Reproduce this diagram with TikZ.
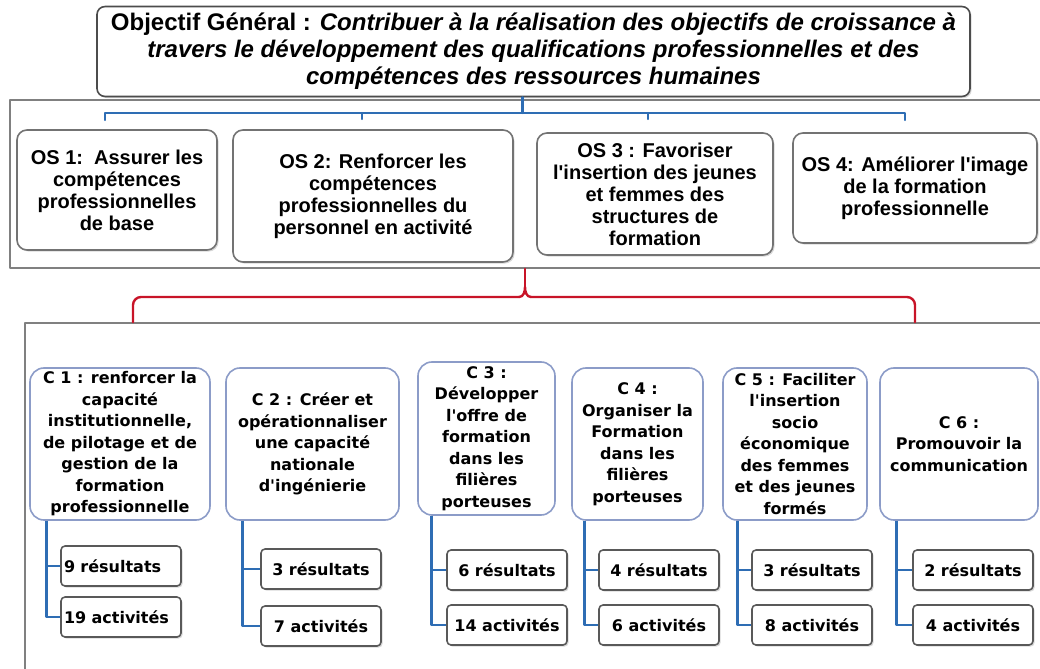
\documentclass[tikz,border=0pt]{standalone}
\usepackage{fontspec}
\setmainfont{Liberation Sans}
\newfontfamily\verdfont{DejaVu Sans}
\usetikzlibrary{shadows}
\definecolor{brblue}{RGB}{46,109,180}
\definecolor{brred}{RGB}{200,20,40}
\definecolor{cedge}{RGB}{140,156,200}
\definecolor{frgray}{RGB}{128,128,128}
\begin{document}
\begin{tikzpicture}[x=0.5pt,y=-0.5pt,line join=round,line cap=round,
	frame/.style={draw=frgray,line width=0.8pt,inner sep=0pt},
	shad/.style={drop shadow={opacity=0.3,shadow xshift=0.8pt,shadow yshift=-0.8pt}},
	gen/.style={draw=black!70,line width=0.8pt,rounded corners=4pt,fill=white,shad,align=center,
		minimum width=436.5pt,minimum height=43.5pt,font=\fontsize{12}{13.5}\selectfont\bfseries},
	osbox/.style={draw=black!55,line width=0.8pt,rounded corners=5pt,fill=white,shad,align=center,
		inner sep=1pt,font=\fontsize{10}{11}\selectfont\bfseries},
	cbox/.style={draw=cedge,line width=0.8pt,rounded corners=7pt,fill=white,align=center,
		inner sep=1pt,minimum height=76pt,font=\verdfont\bfseries\fontsize{8}{10.75}\selectfont},
	res/.style={draw=black!65,line width=0.8pt,rounded corners=2pt,fill=white,shad,
		minimum width=60pt,minimum height=20pt,font=\verdfont\bfseries\fontsize{8}{10}\selectfont},
	blbr/.style={draw=brblue,line width=1.1pt},
	rdbr/.style={draw=brred,line width=1.2pt},
	stem/.style={draw=brblue,line width=1.4pt,line cap=butt}]
	\useasboundingbox (0,0) rectangle (1040,669);
	% frames
	\node[frame,minimum width=520pt,minimum height=84pt] (f1) at (530,184) {};
	\node[frame,minimum width=515pt,minimum height=183.5pt] (f2) at (540,506.5) {};
	% general objective
	\node[gen] (gen) at (533.5,51.5) {Objectif Général : \textit{Contribuer à la réalisation des objectifs de croissance à}\\
		\textit{travers le développement des qualifications professionnelles et des}\\
		\textit{compétences des ressources humaines}};
	% specific objectives
	\node[osbox,minimum width=100pt,minimum height=60pt] (os1) at (117,190) {OS 1:\ \ Assurer les\\compétences\\professionnelles\\de base};
	\node[osbox,minimum width=140pt,minimum height=66pt] (os2) at (373,196) {OS 2: Renforcer les\\compétences\\professionnelles du\\personnel en activité};
	\node[osbox,minimum width=118pt,minimum height=61pt] (os3) at (655,194) {OS 3 : Favoriser\\l\textquotesingle insertion des jeunes\\et femmes des\\structures de\\formation};
	\node[osbox,minimum width=122pt,minimum height=55pt] (os4) at (915,188) {OS 4: Améliorer l\textquotesingle image\\de la formation\\professionnelle};
	% blue bracket
	\coordinate (b1) at (105,113);
	\coordinate (b2) at (362,113);
	\coordinate (b3) at (648,113);
	\coordinate (b4) at (905,113);
	\draw[blbr] ([xshift=-5.5pt]gen.south) -- ([xshift=-5.5pt]gen.south |- b1);
	\draw[blbr] ([yshift=-3.5pt]b1) -- (b1) -- (b4) -- ([yshift=-3.5pt]b4);
	\draw[blbr] (b2) -- ([yshift=-3pt]b2);
	\draw[blbr] (b3) -- ([yshift=-3pt]b3);
	% red bracket
	\coordinate (rl) at (133,297);
	\coordinate (rr) at (915,297);
	\draw[rdbr,rounded corners=4pt] (rl |- f2.north) -- (rl) -- (519,297);
	\draw[rdbr,rounded corners=4pt] (531,297) -- (rr) -- (rr |- f2.north);
	\draw[rdbr] (519,297) to[out=0,in=-90] (525,287) to[out=-90,in=180] (531,297);
	\draw[rdbr] (525,287) -- ([xshift=-2.5pt]f1.south);
	% components
	\node[cbox,minimum width=90pt] (c1) at (120,444) {C 1 : renforcer la\\capacité\\institutionnelle,\\de pilotage et de\\gestion de la\\formation\\professionnelle};
	\node[cbox,minimum width=86.5pt] (c2) at (312.5,444) {C 2 : Créer et\\opérationnaliser\\une capacité\\nationale\\d'ingénierie};
	\node[cbox,minimum width=68.5pt,minimum height=76.5pt] (c3) at (486.5,438.5) {C 3 :\\Développer\\l'offre de\\formation\\dans les\\filières\\porteuses};
	\node[cbox,minimum width=65.5pt] (c4) at (637.5,444) {C 4 :\\Organiser la\\Formation\\dans les\\filières\\porteuses};
	\node[cbox,minimum width=72pt] (c5) at (795,444) {C 5 : Faciliter\\l'insertion\\socio\\économique\\des femmes\\et des jeunes\\formés};
	\node[cbox,minimum width=79pt] (c6) at (959,444) {C 6 :\\Promouvoir la\\communication};
	% results and activities
	\node[res,text width=57pt,align=left,inner xsep=1.5pt] (r1) at (121,566) {9 résultats};
	\node[res,text width=57pt,align=left,inner xsep=1.5pt] (a1) at (121,617) {19 activités};
	\node[res] (r2) at (321,569) {3 résultats};
	\node[res] (a2) at (321,626) {7 activités};
	\node[res] (r3) at (507,570) {6 résultats};
	\node[res] (a3) at (507,625) {14 activités};
	\node[res] (r4) at (659,570) {4 résultats};
	\node[res] (a4) at (659,625) {6 activités};
	\node[res] (r5) at (812,570) {3 résultats};
	\node[res] (a5) at (812,625) {8 activités};
	\node[res] (r6) at (973,570) {2 résultats};
	\node[res] (a6) at (973,625) {4 activités};
	% stems
	\draw[stem] ([xshift=8.5pt]c1.south west) |- (r1.west);
	\draw[stem] ([xshift=8.5pt]c1.south west) |- (a1.west);
	\draw[stem] ([xshift=8.5pt]c2.south west) |- (r2.west);
	\draw[stem] ([xshift=8.5pt]c2.south west) |- (a2.west);
	\draw[stem] ([xshift=7pt]c3.south west) |- (r3.west);
	\draw[stem] ([xshift=7pt]c3.south west) |- (a3.west);
	\draw[stem] ([xshift=6.5pt]c4.south west) |- (r4.west);
	\draw[stem] ([xshift=6.5pt]c4.south west) |- (a4.west);
	\draw[stem] ([xshift=7.5pt]c5.south west) |- (r5.west);
	\draw[stem] ([xshift=7.5pt]c5.south west) |- (a5.west);
	\draw[stem] ([xshift=8.5pt]c6.south west) |- (r6.west);
	\draw[stem] ([xshift=8.5pt]c6.south west) |- (a6.west);
\end{tikzpicture}
\end{document}
